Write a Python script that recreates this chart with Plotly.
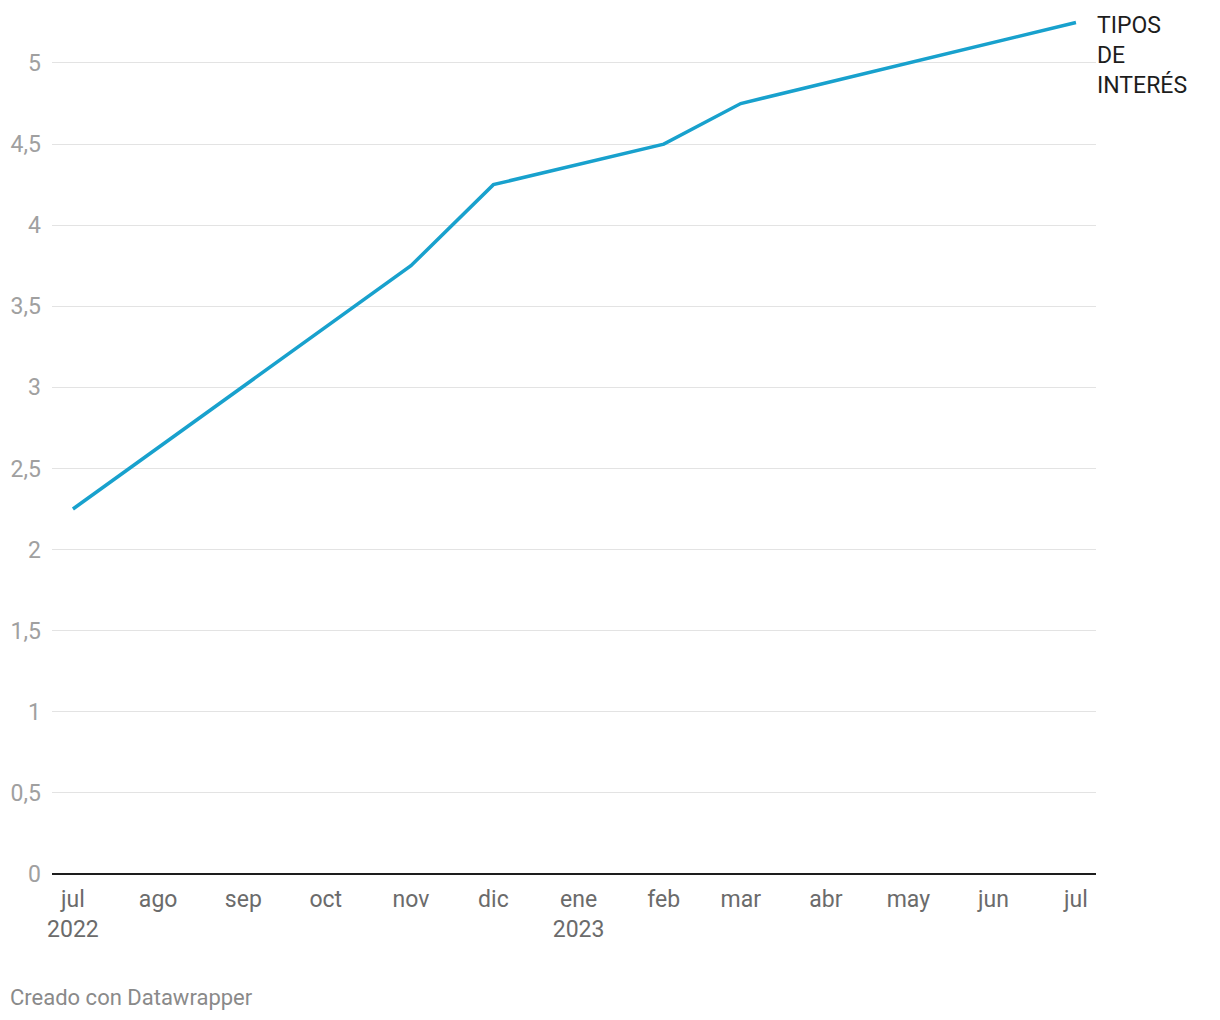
import plotly.graph_objects as go

# Fechas de los cambios visibles y nivel del tipo (%)
fechas = ["2022-07-01", "2022-11-01", "2022-12-01", "2023-02-01", "2023-03-01", "2023-07-01"]
tipos = [2.25, 3.75, 4.25, 4.5, 4.75, 5.25]

meses_vals = [
    "2022-07-01", "2022-08-01", "2022-09-01", "2022-10-01", "2022-11-01", "2022-12-01",
    "2023-01-01", "2023-02-01", "2023-03-01", "2023-04-01", "2023-05-01", "2023-06-01",
    "2023-07-01",
]
meses_txt = [
    "jul<br>2022", "ago", "sep", "oct", "nov", "dic",
    "ene<br>2023", "feb", "mar", "abr", "may", "jun", "jul",
]
y_ticks = [0, 0.5, 1, 1.5, 2, 2.5, 3, 3.5, 4, 4.5, 5]

LINE = "#18a1cd"
FONT = "Roboto, Arial, sans-serif"

fig = go.Figure(
    go.Scatter(
        x=fechas,
        y=tipos,
        mode="lines",
        line={"color": LINE, "width": 3.5},
        hoverinfo="skip",
    )
)

fig.add_annotation(
    x=fechas[-1], y=tipos[-1],
    text="TIPOS<br>DE<br>INTERÉS",
    showarrow=False,
    xanchor="left", yanchor="top", align="left",
    xshift=19, yshift=12,
    font={"family": FONT, "size": 23, "color": "#1d1d1d"},
)

fig.add_annotation(
    xref="paper", yref="paper", x=0, y=0,
    text="Creado con Datawrapper",
    showarrow=False,
    xanchor="left", yanchor="middle",
    xshift=-44, yshift=-123,
    font={"family": FONT, "size": 22, "color": "#8a8a8a"},
)

# la pagina deja 8 px de margen, de ahi los margenes recortados
fig.update_layout(
    width=1204,
    height=1004,
    margin={"l": 44, "r": 116, "t": 12, "b": 138, "autoexpand": False},
    paper_bgcolor="white",
    plot_bgcolor="white",
    showlegend=False,
    separators=",.",
    font={"family": FONT},
    xaxis={
        "type": "date",
        "range": ["2022-06-23 09:00", "2023-07-08 07:00"],
        "tickvals": meses_vals,
        "ticktext": meses_txt,
        "tickfont": {"size": 23, "color": "#6b6b6b"},
        "showgrid": False,
        "showline": False,
        "ticks": "",
        "zeroline": False,
        "ticklabelstandoff": 9,
        "automargin": False,
        "fixedrange": True,
    },
    yaxis={
        "range": [0, 5.265],
        "tickvals": y_ticks,
        "tickfont": {"size": 23, "color": "#a0a0a0"},
        "gridcolor": "#e3e3e3",
        "gridwidth": 1,
        "zeroline": True,
        "zerolinecolor": "#1d1d1d",
        "zerolinewidth": 2,
        "ticks": "",
        "ticklabelstandoff": 10,
        "automargin": False,
        "fixedrange": True,
    },
)

fig.write_html("out.html")
